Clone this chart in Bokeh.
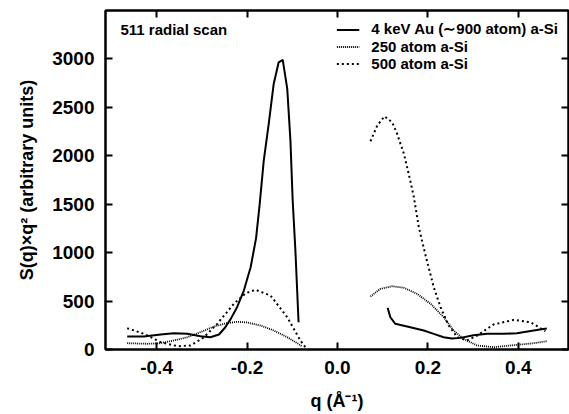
import numpy as np
from bokeh.plotting import figure
from bokeh.models import Range1d, FixedTicker, NumeralTickFormatter, LinearAxis, Label
from bokeh.embed import file_html
from bokeh.resources import INLINE

# 4 keV Au (~900 atom) a-Si
au_q_left = [-0.465, -0.428, -0.391, -0.362, -0.332, -0.303, -0.281, -0.262, -0.248, -0.236,
             -0.222, -0.207, -0.192, -0.180, -0.172, -0.163, -0.152, -0.141, -0.130, -0.121,
             -0.111, -0.104, -0.099, -0.093, -0.086]
au_s_left = [134, 134, 155, 168, 162, 137, 127, 155, 230, 316,
             437, 609, 849, 1150, 1500, 1950, 2329, 2742, 2965, 2990,
             2690, 2157, 1538, 1022, 282]
au_q_right = [0.111, 0.117, 0.128, 0.161, 0.191, 0.213, 0.235, 0.253, 0.272, 0.301,
              0.331, 0.368, 0.397, 0.434, 0.463]
au_s_right = [430, 333, 265, 230, 196, 161, 127, 113, 120, 148,
              162, 162, 168, 196, 217]

# 250 atom a-Si
a250_q_left = [-0.465, -0.421, -0.391, -0.362, -0.332, -0.303, -0.273, -0.244, -0.222, -0.200,
               -0.170, -0.141, -0.111, -0.089, -0.078]
a250_s_left = [65, 59, 65, 93, 127, 179, 237, 272, 286, 279,
               248, 196, 127, 65, 31]
a250_q_right = [0.073, 0.095, 0.121, 0.147, 0.176, 0.206, 0.235, 0.257, 0.279, 0.309,
                0.345, 0.397, 0.434, 0.463]
a250_s_right = [547, 626, 653, 637, 575, 472, 333, 196, 110, 41,
                24, 48, 65, 86]

# 500 atom a-Si
a500_q_left = [-0.465, -0.428, -0.391, -0.354, -0.325, -0.295, -0.266, -0.229, -0.203, -0.181,
               -0.148, -0.111, -0.082, -0.071]
a500_s_left = [220, 162, 76, 34, 41, 127, 265, 472, 581, 616,
               557, 333, 93, 24]
a500_q_right = [0.073, 0.088, 0.104, 0.121, 0.132, 0.147, 0.161, 0.169, 0.180, 0.194,
                0.213, 0.228, 0.246, 0.265, 0.287, 0.309, 0.345, 0.390, 0.427, 0.460]
a500_s_right = [2150, 2312, 2408, 2346, 2226, 2020, 1744, 1572, 1262, 988,
                643, 437, 248, 127, 93, 144, 258, 306, 282, 189]

x_ticks = [-0.4, -0.2, 0.0, 0.2, 0.4]
y_ticks = [0, 500, 1000, 1500, 2000, 2500, 3000]

FONT = "Liberation Sans"


def joined(a, b):
    return list(a) + [np.nan] + list(b)


p = figure(width=569, height=414, x_range=Range1d(-0.513, 0.511), y_range=Range1d(0, 3500),
           output_backend="svg", toolbar_location=None,
           min_border_left=105, min_border_right=1, min_border_top=10, min_border_bottom=65)
p.grid.visible = False
p.outline_line_color = "black"
p.outline_line_width = 2
p.background_fill_color = "white"
p.border_fill_color = "white"

p.line(joined(au_q_left, au_q_right), joined(au_s_left, au_s_right), line_color="black",
       line_width=2, legend_label="4 keV Au (\u223c900 atom) a-Si")
p.line(joined(a250_q_left, a250_q_right), joined(a250_s_left, a250_s_right), line_color="black",
       line_width=1.8, line_dash="1 1", legend_label="250 atom a-Si")
p.line(joined(a500_q_left, a500_q_right), joined(a500_s_left, a500_s_right), line_color="black",
       line_width=2, line_dash="2 3", legend_label="500 atom a-Si")

for ax in (p.xaxis[0], p.yaxis[0]):
    ax.axis_line_width = 2
    ax.axis_line_color = "black"
    ax.major_tick_line_width = 2
    ax.major_tick_line_color = "black"
    ax.major_tick_in = 7
    ax.major_tick_out = 0
    ax.minor_tick_in = 0
    ax.minor_tick_out = 0
    ax.major_label_text_font = FONT
    ax.major_label_text_font_style = "bold"
    ax.major_label_text_font_size = "19px"
    ax.major_label_text_color = "black"
    ax.axis_label_text_font = FONT
    ax.axis_label_text_font_style = "bold"
    ax.axis_label_text_font_size = "18px"
    ax.axis_label_text_color = "black"

p.xaxis.ticker = FixedTicker(ticks=x_ticks)
p.xaxis.formatter = NumeralTickFormatter(format="0.0")
p.xaxis.major_label_standoff = 11
p.xaxis.axis_label = "q (\u00c5\u207b\u00b9)"
p.xaxis.axis_label_standoff = 14

p.yaxis.ticker = FixedTicker(ticks=y_ticks)
p.yaxis.major_label_standoff = 11
p.yaxis.axis_label = "S(q)\u00d7q\u00b2 (arbitrary units)"
p.yaxis.axis_label_standoff = 12

for loc, tk in (("above", x_ticks), ("right", y_ticks)):
    ax = LinearAxis(ticker=FixedTicker(ticks=tk),
                    major_label_overrides={t: "" for t in tk},
                    major_tick_in=7, major_tick_out=0, major_tick_line_width=2,
                    major_tick_line_color="black",
                    minor_tick_in=0, minor_tick_out=0, axis_line_width=2,
                    axis_line_color="black", major_label_standoff=0)
    p.add_layout(ax, loc)

lg = p.legend[0]
lg.location = "top_right"
lg.border_line_alpha = 0
lg.background_fill_alpha = 0
lg.label_text_font = FONT
lg.label_text_font_style = "bold"
lg.label_text_font_size = "15px"
lg.label_text_color = "black"
lg.glyph_width = 23
lg.glyph_height = 17
lg.label_height = 17
lg.label_standoff = 12
lg.spacing = 0
lg.padding = 5
lg.margin = 5

p.add_layout(Label(x=-0.48, y=3304, text="511 radial scan", text_font=FONT,
                   text_font_style="bold", text_font_size="15px", text_baseline="middle",
                   text_color="black"))

open("out.html", "w").write(file_html(p, INLINE))
